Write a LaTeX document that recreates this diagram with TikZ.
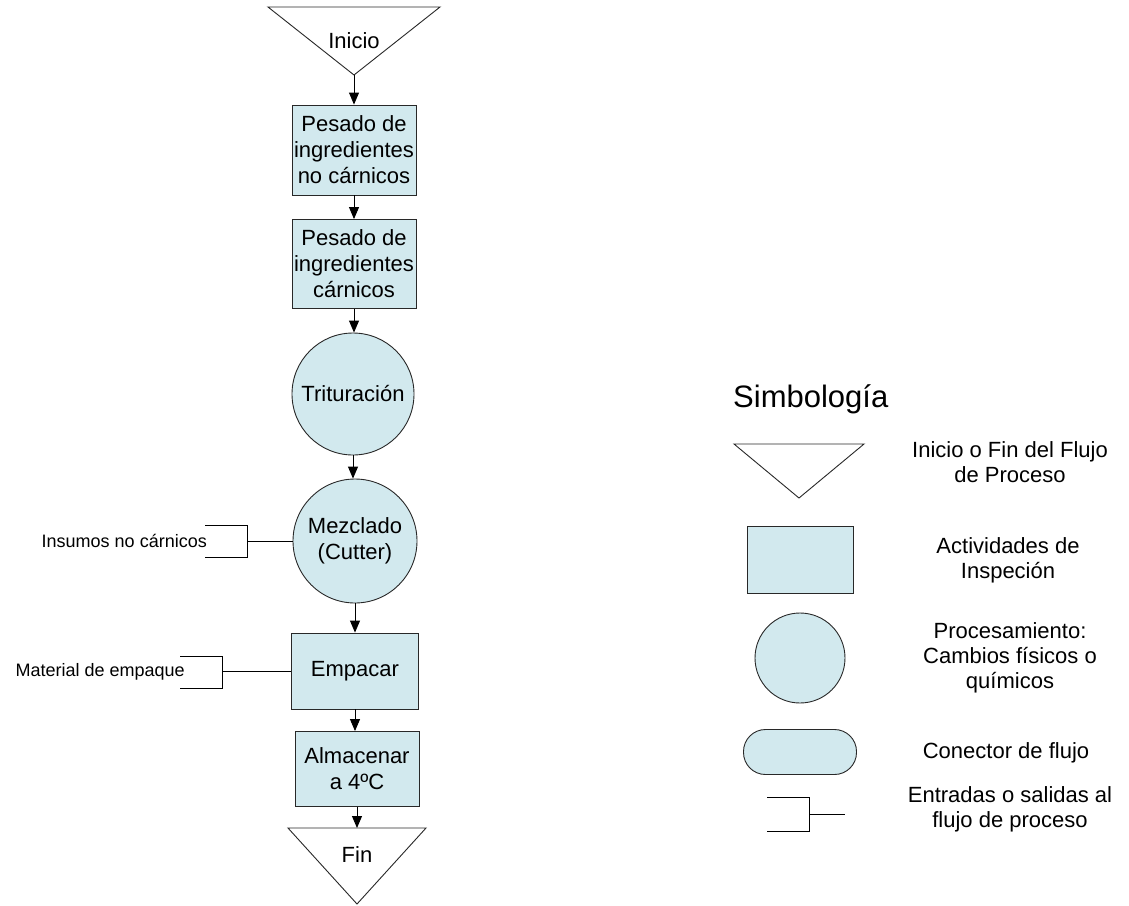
\documentclass[tikz,border=0pt]{standalone}
\usepackage{fontspec}
\setmainfont{Liberation Sans}
\usetikzlibrary{arrows.meta}
\definecolor{procfill}{RGB}{210,233,238}
\definecolor{edge}{RGB}{40,40,40}
\begin{document}
\begin{tikzpicture}[x=1pt,y=-1pt,
  shape line/.style={draw=edge,line width=0.9pt},
  stepbox/.style={shape line,fill=procfill,rectangle,inner sep=0pt,align=center,
    font={\fontsize{22}{26}\selectfont}},
  procnode/.style={shape line,fill=procfill,circle,inner sep=0pt,align=center,
    minimum size=122pt,font={\fontsize{22}{26}\selectfont}},
  flow/.style={draw=black,line width=0.9pt,-{Triangle[width=10pt,length=12pt]}},
  wire/.style={draw=black,line width=0.9pt},
  bigtext/.style={inner sep=0pt,align=center,font={\fontsize{22}{26}\selectfont}},
  smalltext/.style={inner sep=0pt,font={\fontsize{18}{21}\selectfont}},
  legtext/.style={inner sep=0pt,align=center,font={\fontsize{22}{25}\selectfont}}
]
\fill[white] (0,0) rectangle (1129,905);
\useasboundingbox (0,0) rectangle (1129,905);

% ---- start terminal ----
\coordinate (iniL) at (268,7);
\coordinate (iniR) at (440,7);
\coordinate (iniA) at (354,75);
\draw[shape line,fill=white] (iniL) -- (iniR) -- (iniA) -- cycle;
\node[bigtext] (ini) at (354,41) {Inicio};

% ---- process steps ----
\node[stepbox,minimum width=124pt,minimum height=90pt] (b1) at (354,150)
  {Pesado de\\ingredientes\\no cárnicos};
\node[stepbox,minimum width=124pt,minimum height=89pt] (b2) at (354,264)
  {Pesado de\\ingredientes\\cárnicos};
\node[procnode] (c1) at (353,394) {Trituración};
\node[procnode,minimum size=124pt] (c2) at (355,541) {Mezclado\\(Cutter)};
\node[stepbox,minimum width=127pt,minimum height=76pt] (emp) at (355,671) {Empacar};
\node[stepbox,minimum width=124pt,minimum height=75pt] (alm) at (357,769)
  {Almacenar\\a 4ºC};

% ---- end terminal ----
\coordinate (finL) at (288,828);
\coordinate (finR) at (426,828);
\coordinate (finA) at (357,904);
\draw[shape line,fill=white] (finL) -- (finR) -- (finA) -- cycle;
\node[bigtext] (fin) at (357,855) {Fin};

% ---- flow arrows ----
\draw[flow] (iniA) -- (iniA |- b1.north);
\draw[flow] (b1.south) -- (b1.south |- b2.north);
\draw[flow] (b2.south) -- (b2.south |- c1.north);
\draw[flow] (c1.south) -- (c1.south |- c2.north);
\draw[flow] (c2.south) -- (c2.south |- emp.north);
\draw[flow] (emp.south) -- (emp.south |- alm.north);
\draw[flow] (alm.south) -- (alm.south |- finL);

% ---- side inputs ----
\node[smalltext,anchor=east] (insT) at (207,541) {Insumos no cárnicos};
\coordinate (insB) at (247,541);
\draw[wire] (205,525) -- (247,525) -- (247,557) -- (205,557);
\draw[wire] (insB) -- (c2.west);

\node[smalltext,anchor=east] (matT) at (185,672) {Material de empaque};
\coordinate (matB) at (222,671);
\draw[wire] (180,656) -- (222,656) -- (222,688) -- (180,688);
\draw[wire] (matB) -- (emp.west);

% ---- legend ----
\node[inner sep=0pt,anchor=base west,font={\fontsize{31}{36}\selectfont}] (legtitle)
  at (733,407) {Simbología};

\coordinate (lgL) at (734,444);
\coordinate (lgR) at (864,444);
\coordinate (lgA) at (799,498);
\draw[shape line,fill=white] (lgL) -- (lgR) -- (lgA) -- cycle;
\node[legtext] (lgT1) at (1010,462) {Inicio o Fin del Flujo\\de Proceso};

\node[stepbox,minimum width=106pt,minimum height=67pt] (lgBox) at (800,560) {};
\node[legtext] (lgT2) at (1008,560) {Actividades de\\Inspeción};

\node[procnode,minimum size=90pt] (lgCirc) at (800,658) {};
\node[legtext] (lgT3) at (1010,658) {Procesamiento:\\Cambios físicos o\\químicos};

\node[stepbox,rounded corners=22pt,minimum width=113pt,minimum height=45pt]
  (lgConn) at (800,752) {};
\node[legtext] (lgT4) at (1006,753) {Conector de flujo};

\coordinate (lgIo) at (809,814);
\coordinate (lgIoEnd) at (845,814);
\draw[wire] (767,797) -- (809,797) -- (809,831) -- (767,831);
\draw[wire] (lgIo) -- (lgIoEnd);
\node[legtext] (lgT5) at (1010,809) {Entradas o salidas al\\flujo de proceso};
\end{tikzpicture}
\end{document}
